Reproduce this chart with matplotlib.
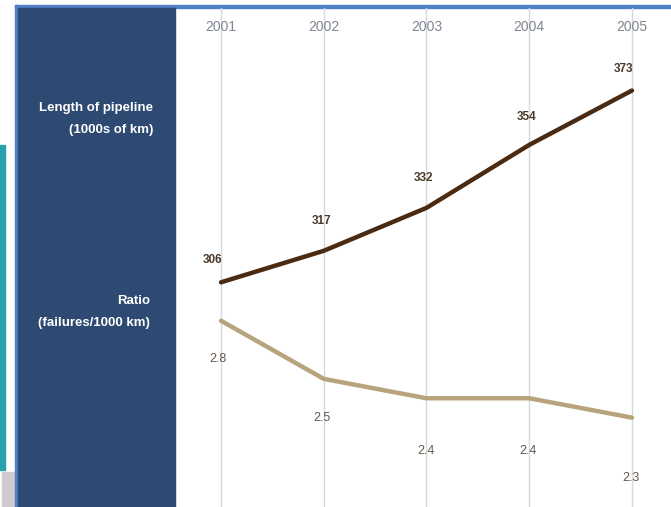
import matplotlib.pyplot as plt
from matplotlib.patches import Rectangle

# Pipeline length and failure ratio by year
years = [2001, 2002, 2003, 2004, 2005]
length_km = [306, 317, 332, 354, 373]
failure_ratio = [2.8, 2.5, 2.4, 2.4, 2.3]

# label offsets in pixels (dx, dy) relative to each point
length_offsets = [(-9, 22), (-2, 30), (-3, 30), (-3, 28), (-8, 22)]
ratio_offsets = [(-3, -38), (-2, -39), (0, -53), (-1, -53), (-1, -60)]

W, H = 671, 507
fig = plt.figure(figsize=(W / 100, H / 100), dpi=100)
fig.patch.set_facecolor('white')
plt.rcParams['font.family'] = ['Liberation Sans Narrow', 'Liberation Sans', 'DejaVu Sans']


def px(x0, y0, w, h):
    # rectangle in figure fractions from pixel coords (top-left origin)
    return [x0 / W, 1 - (y0 + h) / H, w / W, h / H]


# decorative frame on the left side
bg = fig.add_axes([0, 0, 1, 1])
bg.set_xlim(0, W)
bg.set_ylim(H, 0)
bg.axis('off')
bg.add_patch(Rectangle((0, 145), 5, 325, color='#2aa0ac'))
bg.add_patch(Rectangle((2, 472), 12, 35, color='#cfcad0'))
bg.add_patch(Rectangle((15, 5), W - 15, 2.5, color='#4f7fc4'))
bg.add_patch(Rectangle((15, 5), 2.5, H - 5, color='#4f7fc4'))
bg.add_patch(Rectangle((17.5, 7.5), 157, H, color='#2f4a72'))

side_font = dict(color='white', fontsize=9.5, fontweight='bold', ha='right', va='center')
bg.text(153, 108, 'Length of pipeline', **side_font)
bg.text(153, 130, '(1000s of km)', **side_font)
bg.text(150, 301, 'Ratio', **side_font)
bg.text(150, 323, '(failures/1000 km)', **side_font)

# main plotting area
ax = fig.add_axes(px(175, 7.5, W - 175, H - 7.5))
ax.set_xlim(2000.552, 2005.38)
ax.set_ylim(227.5, 402)
for s in ax.spines.values():
    s.set_visible(False)
ax.set_xticks([])
ax.set_yticks([])
ax.patch.set_alpha(0)

for yr in years:
    ax.axvline(yr, color='#d6d8de', lw=1, zorder=0)
    ax.annotate(str(yr), (yr, 402), xytext=(0, -19.5), textcoords='offset pixels',
                ha='center', va='center', fontsize=10, color='#7f8591')

ax.plot(years, length_km, color='#4b2a12', lw=3.2, solid_capstyle='round', zorder=3)
for yr, v, (dx, dy) in zip(years, length_km, length_offsets):
    ax.annotate(str(v), (yr, v), xytext=(dx, dy), textcoords='offset pixels',
                ha='center', va='center', fontsize=8.5, fontweight='bold', color='#4a3a2a')

ax2 = ax.twinx()
ax2.set_ylim(1.839, 4.416)
ax2.axis('off')
ax2.plot(years, failure_ratio, color='#b8a47c', lw=3.2, solid_capstyle='round', zorder=3)
for yr, v, (dx, dy) in zip(years, failure_ratio, ratio_offsets):
    ax2.annotate(str(v), (yr, v), xytext=(dx, dy), textcoords='offset pixels',
                 ha='center', va='center', fontsize=9, color='#62574a')

fig.savefig('out.png', dpi=100)
